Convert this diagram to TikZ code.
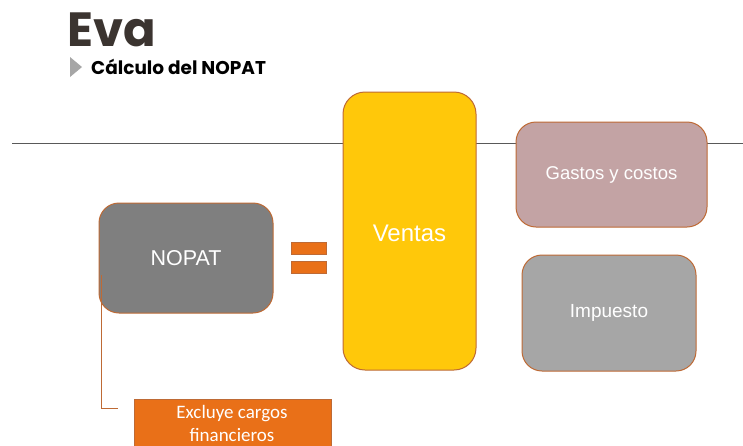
\documentclass[tikz,border=0pt]{standalone}
\usepackage{fontspec}
\setmainfont{Liberation Sans}
\newfontfamily\titlefont{Poppins}
\newfontfamily\calfont{Carlito}
\definecolor{edgeor}{HTML}{BE6A35}
\definecolor{titlec}{HTML}{3B3430}
\definecolor{nopatc}{HTML}{7F7F7F}
\definecolor{ventasc}{HTML}{FFC80A}
\definecolor{gastosc}{HTML}{C3A3A4}
\definecolor{impc}{HTML}{A6A6A6}
\definecolor{orangec}{HTML}{E97018}
\definecolor{rulec}{HTML}{595959}
\definecolor{tric}{HTML}{A6A6A6}
\begin{document}
\begin{tikzpicture}[x=1pt,y=-1pt,
  rbox/.style={draw=edgeor,line width=1pt,rounded corners=20pt,text=white,align=center},
  sbox/.style={draw=edgeor,line width=1pt,fill=orangec,text=white,align=center}]
\useasboundingbox (0,0) rectangle (743,445);
\fill[white] (0,0) rectangle (743,445);
% rule
\coordinate (rl) at (12,143);
\coordinate (rr) at (743,143);
\draw[rulec,line width=0.8pt] (rl) -- (rr);
% title
\node[anchor=west,inner sep=0,text=titlec,font=\titlefont\bfseries\fontsize{48}{50}\selectfont] (title) at (67,30) {Eva};
\fill[tric] (70,57) -- (82,67) -- (70,77) -- cycle;
\node[anchor=west,inner sep=0,font=\titlefont\bfseries\fontsize{18.5}{20}\selectfont] (sub) at (91,67) {Cálculo del NOPAT};
% boxes
\node[rbox,fill=nopatc,minimum width=174pt,minimum height=110pt,font=\fontsize{21.5}{24}\selectfont] (nopat) at (186,258) {NOPAT};
\node[sbox,minimum width=35pt,minimum height=12pt,inner sep=0] (eq1) at (308.5,248) {};
\node[sbox,minimum width=35pt,minimum height=12pt,inner sep=0] (eq2) at (308.5,267) {};
\node[rbox,fill=ventasc,rounded corners=22pt,minimum width=133pt,minimum height=278pt] (ventas) at (409.5,231) {};
\node[text=white,font=\fontsize{24}{26}\selectfont,inner sep=0] (vtext) at (409.5,233) {Ventas};
\node[rbox,fill=gastosc,minimum width=191pt,minimum height=105pt,font=\fontsize{18.5}{22}\selectfont] (gastos) at (611.5,174.5) {Gastos y costos};
\node[rbox,fill=impc,minimum width=174pt,minimum height=116pt,font=\fontsize{19}{22}\selectfont] (imp) at (609,313) {Impuesto};
\node[sbox,anchor=north west,minimum width=197pt,minimum height=60pt,inner sep=0] (excl) at (133.5,398.5) {};
\node[text=white,align=center,inner sep=0,font=\calfont\fontsize{19}{23}\selectfont] (extext) at (232,423) {Excluye cargos\\financieros};
% connector
\coordinate (cend) at (118,408);
\draw[edgeor,line width=0.8pt] (nopat.west |- 0,275) ++(2.5,0) coordinate (cstart) -- (cstart |- cend) -- (cend);
\end{tikzpicture}
\end{document}
